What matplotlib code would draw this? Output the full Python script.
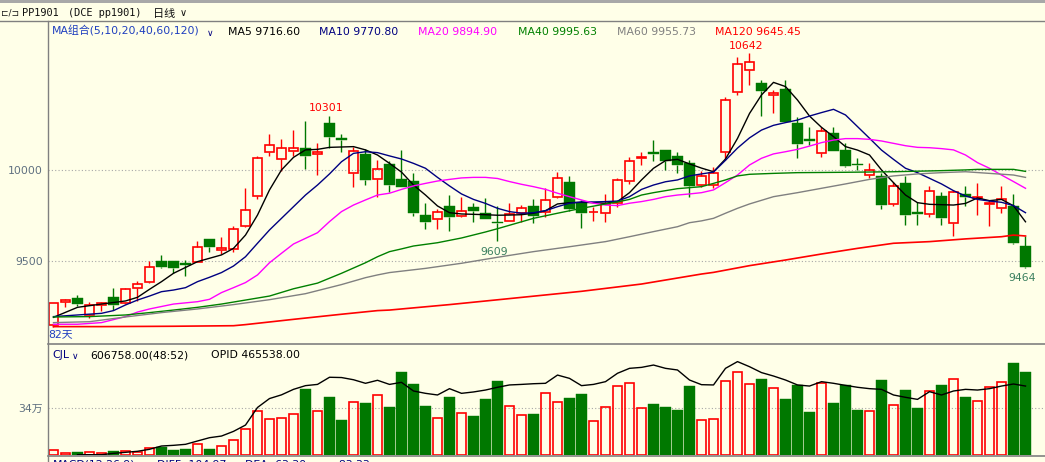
import matplotlib
matplotlib.use('Agg')
import matplotlib.pyplot as plt
import numpy as np
from matplotlib.lines import Line2D
from matplotlib.patches import Rectangle

plt.rcParams['font.family'] = ['DejaVu Sans', 'Noto Sans CJK SC']

# ---------------- data ----------------
opens = [9150, 9278, 9296, 9205, 9258, 9302, 9269, 9351, 9384, 9500,
         9500, 9489, 9498, 9622, 9560, 9566, 9694, 9861, 10099, 10060,
         10108, 10121, 10090, 10258, 10176, 9983, 10090, 9950, 10035, 9952,
         9941, 9754, 9731, 9804, 9747, 9800, 9765, 9716, 9720, 9764,
         9802, 9773, 9855, 9936, 9819, 9769, 9764, 9819, 9939, 10066,
         10099, 10112, 10079, 10038, 9919, 9917, 10099, 10432, 10549, 10478,
         10412, 10447, 10260, 10172, 10097, 10203, 10112, 10035, 9976, 9969,
         9815, 9928, 9769, 9758, 9859, 9712, 9868, 9848, 9815, 9791,
         9804, 9584]
highs = [9270, 9293, 9315, 9278, 9278, 9351, 9355, 9392, 9500, 9535,
         9503, 9507, 9612, 9622, 9635, 9694, 9903, 10079, 10200, 10172,
         10222, 10271, 10148, 10301, 10200, 10130, 10115, 10057, 10053, 10112,
         9987, 9822, 9787, 9864, 9853, 9822, 9848, 9804, 9820, 9808,
         9842, 9901, 9991, 9969, 9837, 9800, 9870, 9956, 10075, 10102,
         10167, 10112, 10102, 10057, 9996, 10020, 10405, 10624, 10642, 10496,
         10441, 10496, 10291, 10236, 10236, 10236, 10148, 10066, 10042, 9987,
         9934, 9969, 9828, 9916, 9883, 9892, 9914, 9932, 9837, 9914,
         9870, 9639]
lows = [9140, 9247, 9256, 9186, 9229, 9232, 9265, 9280, 9379, 9461,
        9438, 9421, 9494, 9553, 9538, 9553, 9687, 9840, 10080, 9998,
        10080, 10007, 9974, 10121, 10099, 9910, 9919, 9855, 9883, 9906,
        9749, 9678, 9678, 9668, 9742, 9718, 9731, 9609, 9720, 9718,
        9712, 9742, 9850, 9778, 9681, 9723, 9718, 9800, 9925, 10031,
        10051, 10002, 9987, 9855, 9906, 9901, 10057, 10414, 10469, 10298,
        10317, 10267, 10069, 10139, 10071, 10108, 10016, 10002, 9956, 9787,
        9804, 9699, 9699, 9745, 9699, 9639, 9804, 9754, 9696, 9764,
        9595, 9464]
closes = [9269, 9287, 9265, 9262, 9269, 9262, 9346, 9373, 9467, 9471,
          9461, 9482, 9580, 9577, 9571, 9676, 9780, 10066, 10139, 10121,
          10121, 10080, 10102, 10185, 10168, 10108, 9947, 10005, 9919, 9910,
          9767, 9718, 9769, 9745, 9775, 9778, 9734, 9709, 9758, 9791,
          9751, 9835, 9956, 9786, 9767, 9773, 9817, 9945, 10049, 10071,
          10088, 10053, 10029, 9914, 9969, 9983, 10385, 10582, 10593, 10438,
          10423, 10267, 10145, 10163, 10216, 10108, 10024, 10027, 10000, 9809,
          9914, 9754, 9758, 9888, 9740, 9879, 9855, 9853, 9820, 9841,
          9602, 9470]
volumes = [36400, 12000, 21800, 19400, 12000, 29000, 26700, 21800, 51000, 60700,
           38800, 46000, 77700, 43700, 63000, 109000, 187000, 318000, 260000, 267000,
           296000, 480000, 318000, 422000, 255000, 386000, 379000, 434000, 350000, 604000,
           517000, 357000, 267000, 422000, 303000, 284000, 408000, 539000, 354000, 289000,
           298000, 449000, 386000, 415000, 444000, 245000, 347000, 500000, 522000, 340000,
           371000, 350000, 328000, 502000, 252000, 260000, 536000, 602000, 517000, 553000,
           485000, 408000, 510000, 313000, 522000, 379000, 510000, 328000, 318000, 546000,
           362000, 473000, 342000, 464000, 510000, 551000, 422000, 391000, 493000, 529000,
           670000, 606758]

ma5_x = [0, 2, 4, 6, 7, 8, 9, 10, 12, 14, 15, 16, 17, 18, 19, 20, 21, 22, 23, 25,
         26, 27, 28, 29, 30, 31, 32, 33, 34, 36, 37, 38, 39, 40, 41, 42, 43, 44, 45, 46,
         47, 48, 49, 50, 51, 52, 53, 54, 55, 56, 57, 58, 59, 60, 61, 62, 63, 64, 65, 66,
         67, 68, 69, 70, 71, 72, 73, 74, 75, 76, 77, 78, 79, 80, 81]
ma5_y = [9192, 9247, 9265, 9282, 9302, 9346, 9388, 9434, 9498, 9535, 9571, 9644, 9754, 9892, 10002, 10071, 10112, 10115, 10126, 10130,
         10112, 10084, 10038, 9990, 9919, 9864, 9804, 9767, 9760, 9756, 9753, 9754, 9756, 9764, 9778, 9815, 9822, 9824, 9822, 9819,
         9828, 9877, 9947, 10011, 10053, 10060, 10035, 10012, 9992, 10062, 10175, 10312, 10414, 10483, 10460, 10386, 10298, 10236, 10185, 10130,
         10111, 10084, 10002, 9932, 9864, 9822, 9813, 9811, 9809, 9818, 9848, 9833, 9840, 9805, 9717]

ma10_x = [0, 2, 4, 5, 6, 7, 8, 9, 10, 11, 12, 13, 14, 15, 16, 17, 18, 19, 20, 21,
          22, 23, 24, 25, 26, 27, 28, 29, 30, 31, 32, 33, 34, 35, 36, 37, 38, 39, 40, 41,
          42, 43, 44, 45, 46, 47, 48, 49, 50, 51, 52, 53, 54, 55, 56, 57, 58, 59, 60, 61,
          62, 63, 64, 65, 66, 67, 68, 69, 70, 71, 72, 73, 74, 75, 76, 77, 78, 79, 80, 81]
ma10_y = [9196, 9205, 9214, 9229, 9260, 9287, 9309, 9333, 9342, 9355, 9388, 9412, 9438, 9474, 9525, 9599, 9672, 9736, 9800, 9864,
          9919, 9980, 10047, 10093, 10102, 10097, 10079, 10062, 10038, 10011, 9961, 9914, 9870, 9840, 9818, 9791, 9773, 9764, 9767, 9778,
          9800, 9819, 9826, 9826, 9828, 9831, 9855, 9895, 9919, 9937, 9947, 9969, 9980, 9990, 10055, 10122, 10178, 10221, 10247, 10262,
          10276, 10298, 10317, 10335, 10304, 10240, 10176, 10111, 10060, 10011, 9987, 9956, 9925, 9888, 9859, 9840, 9831, 9824, 9806, 9767]

ma20_x = [0, 2, 4, 6, 7, 8, 10, 12, 13, 14, 15, 16, 17, 18, 19, 20, 21, 22, 23, 24,
          25, 26, 27, 28, 29, 30, 31, 32, 33, 34, 35, 36, 37, 38, 39, 40, 41, 42, 43, 44,
          45, 46, 47, 48, 49, 50, 51, 52, 53, 54, 55, 56, 57, 58, 59, 60, 61, 62, 63, 64,
          65, 66, 67, 68, 69, 70, 71, 72, 73, 74, 75, 76, 77, 78, 79, 80, 81]
ma20_y = [9154, 9154, 9163, 9196, 9221, 9238, 9265, 9278, 9291, 9328, 9355, 9383, 9425, 9492, 9544, 9595, 9626, 9657, 9718, 9773,
          9809, 9837, 9864, 9874, 9895, 9914, 9928, 9941, 9950, 9958, 9961, 9961, 9955, 9938, 9923, 9910, 9895, 9874, 9855, 9837,
          9819, 9809, 9806, 9819, 9828, 9840, 9855, 9864, 9870, 9877, 9892, 9932, 9974, 10029, 10066, 10090, 10102, 10115, 10133, 10152,
          10166, 10174, 10174, 10170, 10161, 10148, 10135, 10126, 10124, 10119, 10112, 10084, 10042, 10011, 9974, 9938, 9901]

ma40_x = [0, 3, 6, 8, 10, 12, 14, 16, 18, 20, 22, 24, 26, 27, 28, 29, 30, 32, 34, 36,
          37, 38, 40, 42, 44, 46, 47, 48, 49, 50, 51, 52, 54, 55, 56, 57, 58, 60, 62, 66,
          70, 74, 76, 77, 80, 81]
ma40_y = [9194, 9196, 9205, 9218, 9232, 9247, 9265, 9287, 9309, 9349, 9380, 9434, 9492, 9525, 9553, 9568, 9584, 9602, 9628, 9661,
          9679, 9698, 9736, 9764, 9791, 9815, 9826, 9840, 9864, 9877, 9888, 9899, 9910, 9928, 9947, 9969, 9978, 9983, 9987, 9989,
          9992, 9998, 10002, 10005, 10005, 9994]

ma60_x = [0, 3, 6, 9, 12, 15, 18, 21, 24, 26, 27, 28, 31, 34, 37, 40, 43, 46, 48, 50,
          52, 53, 54, 55, 56, 57, 58, 60, 62, 64, 66, 68, 70, 72, 74, 76, 78, 80, 81]
ma60_y = [9163, 9168, 9194, 9218, 9238, 9262, 9289, 9322, 9372, 9410, 9425, 9438, 9461, 9489, 9522, 9553, 9580, 9608, 9635, 9663,
          9690, 9712, 9722, 9736, 9764, 9791, 9815, 9855, 9877, 9901, 9925, 9950, 9969, 9980, 9987, 9992, 9983, 9974, 9961]

ma120_x = [0, 4, 10, 15, 16, 20, 24, 27, 28, 33, 38, 44, 49, 54, 55, 58, 61, 64, 67, 70,
           73, 76, 79, 80, 81]
ma120_y = [9141, 9141, 9143, 9146, 9152, 9181, 9209, 9229, 9232, 9262, 9295, 9335, 9375, 9430, 9439, 9476, 9507, 9540, 9571, 9599,
           9608, 9623, 9635, 9644, 9639]

opid_x = [2, 4, 5, 7, 8, 9, 10, 11, 12, 13, 14, 15, 16, 17, 18, 19, 20, 21, 22, 23,
          24, 25, 26, 27, 28, 29, 30, 31, 32, 33, 34, 35, 36, 37, 38, 39, 40, 41, 42, 43,
          44, 45, 46, 47, 48, 49, 50, 51, 52, 53, 54, 55, 56, 57, 58, 59, 60, 61, 62, 63,
          64, 65, 66, 67, 68, 69, 70, 71, 72, 73, 74, 75, 76, 77, 78, 79, 80, 81]
opid_y = [2000, 2000, 12000, 27000, 41500, 65500, 70400, 77700, 102000, 126000, 138000, 172000, 218000, 346000, 411000, 438000, 478000, 505000, 514000, 566000,
          564000, 548000, 522000, 544000, 514000, 529000, 466000, 449000, 437000, 483000, 449000, 459000, 473000, 493000, 510000, 514000, 519000, 522000, 582000, 558000,
          505000, 514000, 534000, 595000, 631000, 638000, 655000, 631000, 619000, 546000, 512000, 510000, 631000, 680000, 643000, 600000, 575000, 546000, 510000, 502000,
          534000, 522000, 507000, 493000, 483000, 478000, 437000, 420000, 405000, 461000, 437000, 466000, 478000, 473000, 483000, 502000, 517000, 502000]

ma_names = ['MA5', 'MA10', 'MA20', 'MA40', 'MA60', 'MA120']
ma_last = [9716.60, 9770.80, 9894.90, 9995.63, 9955.73, 9645.45]
ma_colors = ['#000000', '#000080', '#FF00FF', '#008000', '#808080', '#FF0000']
price_ticks = [9500, 10000]
vol_ticks = [340000]
vol_tick_labels = ['34万']
cjl_text = '606758.00(48:52)'
opid_text = 'OPID 465538.00'
macd_texts = ['MACD(12,26,9)', 'DIFF -104.97', 'DEA -63.30', '-83.33']

# ---------------- style ----------------
W, H = 1045, 462
BG = '#FFFFE8'
RED = '#FF0000'
GREEN = '#007800'
FRAME = '#808080'
FS = 7.8


def fx(px):
    return px / W


def fy(py):
    return 1 - py / H


fig = plt.figure(figsize=(W / 100, H / 100), dpi=100, facecolor=BG)

ax = fig.add_axes([fx(48), fy(343), 1 - fx(48), fy(20.5) - fy(343)])
axv = fig.add_axes([fx(48), fy(455), 1 - fx(48), fy(344) - fy(455)])
for a in (ax, axv):
    a.set_facecolor(BG)
    for s in a.spines.values():
        s.set_visible(False)
    a.set_xlim(-0.458, 82.625)
    a.set_xticks([])
    a.tick_params(axis='y', length=0, pad=3.5, labelsize=FS, labelcolor='#5F7080')

ax.set_ylim(9051, 10823)
axv.set_ylim(0, 808200)

ax.set_yticks(price_ticks)
ax.set_yticklabels([str(t) for t in price_ticks])
axv.set_yticks(vol_ticks)
axv.set_yticklabels(vol_tick_labels)
for a in (ax, axv):
    a.yaxis.grid(True, color='#A8A8A8', lw=0.8, ls=(0, (1, 2)))
    a.set_axisbelow(True)

# ---------------- candles ----------------
x = np.arange(len(closes))
o = np.array(opens, float)
c = np.array(closes, float)
hi = np.array(highs, float)
lo = np.array(lows, float)
up = c >= o
top = np.maximum(o, c)
bot = np.minimum(o, c)
hgt = np.maximum(top - bot, 3)
cols = np.where(up, RED, GREEN)

ax.vlines(x, top, hi, colors=cols, lw=1.0, zorder=3)
ax.vlines(x, lo, bot, colors=cols, lw=1.0, zorder=3)
ax.bar(x[up], hgt[up], bottom=bot[up], width=0.76, facecolor='none',
       edgecolor=RED, linewidth=1.2, zorder=4)
ax.bar(x[~up], hgt[~up], bottom=bot[~up], width=0.88, facecolor=GREEN,
       edgecolor=GREEN, linewidth=0.3, zorder=4)

ma_series = [(ma5_x, ma5_y), (ma10_x, ma10_y), (ma20_x, ma20_y),
             (ma40_x, ma40_y), (ma60_x, ma60_y), (ma120_x, ma120_y)]
for (mx, my), col in zip(ma_series, ma_colors):
    ax.plot(mx, my, color=col, lw=1.0 if col != RED else 1.2, zorder=5)

# extreme labels (local highs / lows marked in the reference)
i_hi1 = int(np.argmax(hi[:40]))
i_hi2 = int(np.argmax(hi))
i_lo1 = 30 + int(np.argmin(lo[30:50]))
i_lo2 = 60 + int(np.argmin(lo[60:]))
ax.annotate(f'{highs[i_hi1]}', (i_hi1, hi[i_hi1]), xytext=(-2.5, 3), textcoords='offset points',
            ha='center', va='baseline', color=RED, fontsize=FS)
ax.annotate(f'{highs[i_hi2]}', (i_hi2, hi[i_hi2]), xytext=(-2.5, 3), textcoords='offset points',
            ha='center', va='baseline', color=RED, fontsize=FS)
ax.annotate(f'{lows[i_lo1]}', (i_lo1, lo[i_lo1]), xytext=(-2.5, -9.6), textcoords='offset points',
            ha='center', va='baseline', color='#3C8060', fontsize=FS)
ax.annotate(f'{lows[i_lo2]}', (i_lo2, lo[i_lo2]), xytext=(-2.5, -9.4), textcoords='offset points',
            ha='center', va='baseline', color='#3C8060', fontsize=FS)

# ---------------- volume ----------------
v = np.array(volumes, float)
axv.bar(x[up], v[up], width=0.76, facecolor='none', edgecolor=RED, linewidth=1.2, zorder=3)
axv.bar(x[~up], v[~up], width=0.88, facecolor=GREEN, edgecolor=GREEN, linewidth=0.3, zorder=3)
axv.plot(opid_x, opid_y, color='black', lw=1.0, zorder=4)

# ---------------- frame ----------------
fig.add_artist(Rectangle((0, fy(2.5)), 1, 1 - fy(2.5), transform=fig.transFigure,
                         facecolor='#A8A8A8', edgecolor='none'))
fig.add_artist(Line2D([0, 1], [fy(20.5), fy(20.5)], color=FRAME, lw=1.0))
fig.add_artist(Line2D([fx(48), fx(48)], [0, fy(20.5)], color=FRAME, lw=1.0))
fig.add_artist(Line2D([fx(48), 1], [fy(344), fy(344)], color=FRAME, lw=1.2))
fig.add_artist(Line2D([fx(48), 1], [fy(455.5), fy(455.5)], color=FRAME, lw=1.2))

# ---------------- texts ----------------
fig.text(fx(1.5), fy(15.5), '⊏/⊐', fontsize=6.5, color='#202020', va='baseline', family=['DejaVu Sans'])
fig.text(fx(22), fy(16.5), 'PP1901', fontsize=7.4, color='#101010', va='baseline',
         family=['DejaVu Sans Mono', 'Noto Sans CJK SC'])
fig.text(fx(68), fy(16.5), '(DCE pp1901)', fontsize=7.4, color='#101010', va='baseline',
         family=['DejaVu Sans Mono', 'Noto Sans CJK SC'])
fig.text(fx(153), fy(16.5), '日线', fontsize=8, color='#101010', va='baseline',
         family=['Noto Sans CJK SC'])
fig.text(fx(180), fy(16.5), '∨', fontsize=7, color='#101010', va='baseline')

fig.text(fx(52.3), fy(34.7), 'MA组合(5,10,20,40,60,120)', fontsize=FS, color='#1F3FBF', va='baseline')
fig.text(fx(207), fy(36), '∨', fontsize=6.5, color='#000080', va='baseline')
ma_x_pos = [227.7, 319.3, 418.3, 517.7, 616.7, 715.0]
for name, val, col, px in zip(ma_names, ma_last, ma_colors, ma_x_pos):
    fig.text(fx(px), fy(34.7), f'{name} {val:.2f}', fontsize=FS, color=col, va='baseline')

fig.text(fx(48.5), fy(337), '82天', fontsize=FS, color='#2040C0', va='baseline')

fig.text(fx(52.3), fy(358), 'CJL', fontsize=FS, color='#000080', va='baseline')
fig.text(fx(72), fy(359), '∨', fontsize=6.5, color='#000080', va='baseline')
fig.text(fx(90.7), fy(358), cjl_text, fontsize=FS, color='black', va='baseline')
fig.text(fx(210.7), fy(358), opid_text, fontsize=FS, color='black', va='baseline')

for t, px in zip(macd_texts, [53, 157, 245, 335]):
    fig.text(fx(px), fy(468), t, fontsize=FS, color='#000080', va='baseline')

fig.savefig('out.png', dpi=100, facecolor=BG)
